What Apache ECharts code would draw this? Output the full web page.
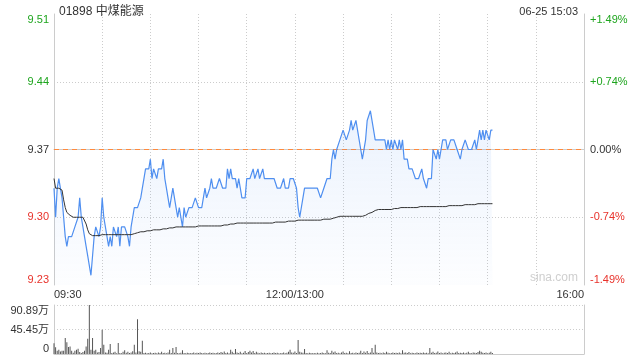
<!DOCTYPE html>
<html>
<head>
<meta charset="utf-8">
<script src="https://cdn.jsdelivr.net/npm/echarts@6/dist/echarts.min.js"></script>
<style>html,body{margin:0;padding:0;background:#fff}#c{width:640px;height:360px}</style>
</head>
<body>
<div id="c"></div>
<script>
const titleText = '01898 中煤能源';
const dateText = '06-25 15:03';
const prevClose = 9.37;
const priceTicks = ['9.23', '9.30', '9.37', '9.44', '9.51'];
const pctTicks = ['-1.49%', '-0.74%', '0.00%', '+0.74%', '+1.49%'];
const volTicks = ['0', '45.45万', '90.89万'];
const volMax = 908900;
const timeTickIdx = [0, 150, 330];
const timeTickText = ['09:30', '12:00/13:00', '16:00'];

const price1 = [9.33,9.30,9.33,9.34,9.34,9.32,9.30,9.28,9.27,9.28,9.28,9.28,9.28,9.29,9.29,9.30,9.32,9.30,9.29,9.28,
  9.27,9.26,9.25,9.24,9.26,9.28,9.29,9.29,9.28,9.29,9.32,9.30,9.29,9.29,9.27,9.28,9.27,9.29,9.29,9.28,
  9.29,9.27,9.29,9.29,9.29,9.29,9.28,9.27,9.29,9.29,9.31,9.31,9.31,9.31,9.32,9.33,9.34,9.35,9.35,9.35,
  9.36,9.34,9.35,9.35,9.34,9.35,9.35,9.35,9.36];
const price2 = [9.34,9.33,9.32,9.31,9.31,9.33,9.33,9.31,9.30,9.31,9.31,9.29,9.31,9.30,9.30,9.31,9.31,9.31,9.31,9.32,
  9.32,9.31,9.31,9.31,9.32,9.33,9.32,9.32,9.33,9.34,9.33,9.33,9.33,9.33,9.34,9.34,9.33,9.33,9.33,9.35,
  9.34,9.35,9.34,9.34,9.34,9.33,9.34,9.33,9.32,9.32,9.32,9.34,9.34,9.34,9.34,9.35,9.34,9.34,9.35,9.34,
  9.34,9.35,9.34,9.34,9.34,9.34,9.34,9.34,9.34];
const price3 = [9.34,9.33,9.33,9.33,9.33,9.34,9.33,9.33,9.33,9.34,9.34,9.34,9.34,9.33,9.31,9.30,9.30,9.32,9.33,9.33,
  9.33,9.33,9.33,9.33,9.33,9.33,9.33,9.33,9.32,9.32,9.33,9.33,9.34,9.34,9.34,9.36,9.37,9.36,9.37,9.37,
  9.38,9.38,9.39,9.39,9.38,9.38,9.39,9.40,9.39,9.39,9.40,9.39,9.38,9.37,9.36,9.36,9.38,9.40,9.40,9.41,
  9.41,9.39,9.38,9.38,9.38,9.38,9.38,9.38];
const price4 = [9.38,9.37,9.38,9.37,9.38,9.37,9.38,9.38,9.37,9.38,9.37,9.38,9.36,9.36,9.36,9.35,9.35,9.35,9.35,9.34,
  9.34,9.34,9.34,9.35,9.34,9.34,9.33,9.34,9.34,9.34,9.37,9.37,9.36,9.37,9.36,9.37,9.38,9.38,9.38,9.37,
  9.37,9.38,9.38,9.38,9.38,9.37,9.37,9.36,9.37,9.37,9.38,9.38,9.37,9.37,9.37,9.37,9.38,9.37,9.38,9.39,
  9.38,9.39,9.38,9.39,9.39,9.38,9.39,9.39];

const avg1 = [9.340,9.330,9.329,9.330,9.331,9.328,9.318,9.310,9.305,9.303,9.302,9.301,9.300,9.300,9.300,9.300,9.300,9.300,9.300,9.299,
  9.293,9.287,9.283,9.282,9.281,9.281,9.281,9.281,9.281,9.281,9.282,9.282,9.282,9.282,9.282,9.282,9.282,9.282,9.282,9.282,
  9.282,9.282,9.282,9.282,9.282,9.282,9.282,9.282,9.282,9.282,9.283,9.283,9.284,9.284,9.285,9.285,9.285,9.286,9.286,9.286,
  9.286,9.287,9.287,9.287,9.287,9.287,9.287,9.288,9.288];
const avg2 = [9.288,9.288,9.289,9.289,9.289,9.289,9.289,9.290,9.290,9.290,9.290,9.290,9.290,9.290,9.290,9.290,9.290,9.290,9.290,9.290,
  9.290,9.291,9.291,9.291,9.291,9.291,9.291,9.291,9.291,9.291,9.291,9.291,9.291,9.291,9.291,9.291,9.291,9.292,9.292,9.292,
  9.293,9.293,9.293,9.293,9.293,9.294,9.294,9.294,9.294,9.294,9.294,9.294,9.294,9.294,9.294,9.294,9.294,9.294,9.294,9.294,
  9.294,9.294,9.294,9.294,9.294,9.294,9.294,9.294,9.294];
const avg3 = [9.295,9.295,9.295,9.295,9.295,9.295,9.295,9.296,9.296,9.296,9.296,9.296,9.296,9.297,9.297,9.297,9.297,9.297,9.297,9.297,
  9.297,9.297,9.297,9.297,9.297,9.297,9.297,9.297,9.297,9.297,9.298,9.298,9.298,9.298,9.298,9.299,9.299,9.299,9.300,9.300,
  9.301,9.301,9.301,9.301,9.301,9.301,9.301,9.301,9.301,9.301,9.301,9.301,9.301,9.301,9.301,9.302,9.302,9.303,9.304,9.304,
  9.305,9.306,9.307,9.308,9.308,9.308,9.308,9.308];
const avg4 = [9.308,9.308,9.308,9.308,9.308,9.309,9.309,9.309,9.309,9.309,9.310,9.310,9.310,9.310,9.310,9.310,9.310,9.310,9.310,9.310,
  9.310,9.311,9.311,9.311,9.311,9.311,9.311,9.311,9.311,9.311,9.311,9.311,9.311,9.311,9.311,9.311,9.311,9.311,9.311,9.311,
  9.312,9.312,9.312,9.312,9.312,9.312,9.312,9.312,9.312,9.313,9.313,9.313,9.313,9.313,9.313,9.313,9.313,9.313,9.314,9.314,
  9.314,9.314,9.314,9.314,9.314,9.314,9.314,9.314];

const vol1 = [200000,125000,60000,80000,45000,60000,60000,295000,220000,130000,140000,60000,25000,60000,80000,98000,37000,20000,37000,60000,
  140000,283000,909000,80000,295000,60000,80000,30000,37000,110000,449000,172000,30000,25000,80000,184000,20000,30000,40000,15000,
  203000,20000,15000,40000,68000,25000,40000,20000,30000,50000,172000,30000,645000,50000,40000,246000,20000,25000,15000,20000,
  30000,12000,18000,25000,15000,30000,20000,40000,20000];
const vol2 = [25000,15000,30000,80000,20000,110000,25000,129000,20000,15000,25000,68000,20000,12000,25000,18000,12000,20000,30000,15000,
  25000,18000,30000,20000,15000,25000,12000,20000,30000,18000,25000,15000,20000,30000,18000,35000,25000,45000,20000,30000,
  15000,80000,40000,20000,92000,30000,20000,40000,15000,25000,55000,20000,35000,60000,30000,55000,20000,40000,25000,15000,
  30000,20000,25000,12000,18000,25000,15000,20000,30000];
const vol3 = [18000,25000,15000,12000,20000,30000,15000,25000,40000,80000,30000,25000,45000,20000,258000,40000,30000,25000,92000,20000,
  15000,25000,18000,12000,20000,15000,25000,12000,18000,30000,20000,15000,68000,25000,20000,60000,30000,45000,20000,25000,
  15000,30000,45000,20000,25000,15000,50000,20000,25000,15000,30000,20000,25000,60000,20000,45000,25000,55000,20000,30000,
  110000,25000,172000,30000,20000,25000,15000,30000];
const vol4 = [20000,40000,25000,15000,20000,30000,18000,25000,20000,30000,15000,68000,25000,30000,20000,35000,15000,25000,20000,15000,
  30000,20000,25000,18000,30000,20000,25000,15000,110000,25000,40000,20000,25000,45000,20000,30000,15000,25000,30000,20000,
  40000,15000,25000,20000,30000,45000,18000,25000,20000,30000,15000,25000,40000,20000,15000,30000,25000,20000,35000,60000,
  40000,25000,20000,30000,15000,25000,40000,20000];

const prices = price1.concat(price2, price3, price4);
const avgs = avg1.concat(avg2, avg3, avg4);
const vols = vol1.concat(vol2, vol3, vol4);

function pad(n){return (n<10?'0':'')+n;}
const cats = [];
for (let i = 0; i <= 330; i++) {
  let m = i <= 150 ? 9*60+30+i : 13*60+(i-150);
  cats.push(i === 150 ? '12:00/13:00' : pad(Math.floor(m/60)) + ':' + pad(m%60));
}
const priceData = prices.map(p => +((p - prevClose) * 100).toFixed(3));
const avgData = avgs.map(p => +((p - prevClose) * 100).toFixed(3));

const green = '#1ea51e', red = '#e8322b', black = '#333333';
const orange = '#ff8a3d';
const clear = 'rgba(0,0,0,0)';
const tickColors = [red, red, black, green, green];
const tIdx = v => Math.round((v + 14) / 7);
const FONT = '"Liberation Sans", Arial, "Noto Sans CJK SC", sans-serif';

const chart = echarts.init(document.getElementById('c'), null, {renderer: 'canvas'});
chart.setOption({
  animation: false,
  textStyle: {fontFamily: FONT},
  title: [
    {text: titleText, left: 54, top: 1, textStyle: {fontSize: 12, fontWeight: 'normal', color: '#333', fontFamily: FONT}},
    {text: dateText, right: 57, top: 1, textStyle: {fontSize: 11, fontWeight: 'normal', color: '#333', fontFamily: FONT}}
  ],
  graphic: [{
    type: 'text', right: 62, top: 272, silent: true,
    style: {text: 'sina.com', fill: '#cfcfcf', fontSize: 12, fontFamily: FONT}
  }],
  grid: [
    {left: 54, right: 56, top: 14, height: 271},
    {left: 54, right: 56, top: 305, height: 49}
  ],
  xAxis: [
    {
      type: 'category', gridIndex: 0, data: cats, boundaryGap: false,
      axisLine: {show: true, lineStyle: {color: '#cccccc'}},
      axisTick: {show: false},
      axisLabel: {
        interval: (i) => timeTickIdx.indexOf(i) >= 0,
        formatter: (v, i) => { const k = timeTickIdx.indexOf(i); return k >= 0 ? timeTickText[k] : ''; },
        color: '#333', fontSize: 11, margin: 4, alignMinLabel: 'left', alignMaxLabel: 'right', fontFamily: FONT
      },
      splitLine: {show: true, interval: (i) => i % 30 === 0, lineStyle: {color: '#cccccc', type: [1, 2]}}
    },
    {
      type: 'category', gridIndex: 1, data: cats, boundaryGap: false,
      axisLine: {show: true, lineStyle: {color: '#cccccc'}},
      axisTick: {show: false}, axisLabel: {show: false}, splitLine: {show: false}
    }
  ],
  yAxis: [
    {
      type: 'value', gridIndex: 0, min: -14, max: 14, interval: 7, position: 'left',
      axisLine: {show: true, lineStyle: {color: '#cccccc'}}, axisTick: {show: false},
      splitLine: {show: true, lineStyle: {color: [clear, '#cccccc', clear, '#cccccc', clear], type: [1, 2]}},
      axisLabel: {
        formatter: (v) => priceTicks[tIdx(v)], color: (v) => tickColors[tIdx(+v)],
        fontSize: 11, margin: 5, verticalAlignMinLabel: 'bottom', verticalAlignMaxLabel: 'top', fontFamily: FONT
      }
    },
    {
      type: 'value', gridIndex: 0, min: -14, max: 14, interval: 7, position: 'right',
      axisLine: {show: true, lineStyle: {color: '#cccccc'}}, axisTick: {show: false}, splitLine: {show: false},
      axisLabel: {
        formatter: (v) => pctTicks[tIdx(v)], color: (v) => tickColors[tIdx(+v)],
        fontSize: 11, margin: 6, verticalAlignMinLabel: 'bottom', verticalAlignMaxLabel: 'top', fontFamily: FONT
      }
    },
    {
      type: 'value', gridIndex: 1, min: 0, max: volMax, interval: volMax / 2, position: 'left',
      axisLine: {show: true, lineStyle: {color: '#cccccc'}}, axisTick: {show: false},
      splitLine: {show: true, lineStyle: {color: '#cccccc', type: [1, 2]}},
      axisLabel: {
        formatter: (v) => volTicks[Math.round(v / (volMax / 2))], color: '#333',
        fontSize: 11, margin: 5, verticalAlignMinLabel: 'bottom', verticalAlignMaxLabel: 'top', fontFamily: FONT
      }
    },
    {
      type: 'value', gridIndex: 1, min: 0, max: volMax, interval: volMax / 2, position: 'right',
      axisLine: {show: true, lineStyle: {color: '#cccccc'}}, axisTick: {show: false},
      splitLine: {show: false}, axisLabel: {show: false}
    }
  ],
  series: [
    {
      type: 'line', xAxisIndex: 0, yAxisIndex: 0, data: priceData, symbol: 'none',
      lineStyle: {color: '#4f8ff0', width: 1.2}, itemStyle: {color: '#4f8ff0'},
      areaStyle: {origin: 'start', color: new echarts.graphic.LinearGradient(0, 0, 0, 1, [
        {offset: 0, color: 'rgba(79,143,240,0.16)'}, {offset: 1, color: 'rgba(79,143,240,0.02)'}])},
      z: 3
    },
    {
      type: 'line', xAxisIndex: 0, yAxisIndex: 0, data: avgData, symbol: 'none',
      lineStyle: {color: '#333333', width: 1}, z: 4,
      markLine: {
        silent: true, symbol: ['none', 'none'], label: {show: false}, z: 2,
        lineStyle: {color: orange, type: [5, 4], width: 1, opacity: 1},
        emphasis: {disabled: true},
        data: [{yAxis: 0}]
      }
    },
    {
      type: 'bar', xAxisIndex: 1, yAxisIndex: 2, data: vols, barWidth: 1,
      itemStyle: {color: '#555555'}
    }
  ]
});
</script>
</body>
</html>
